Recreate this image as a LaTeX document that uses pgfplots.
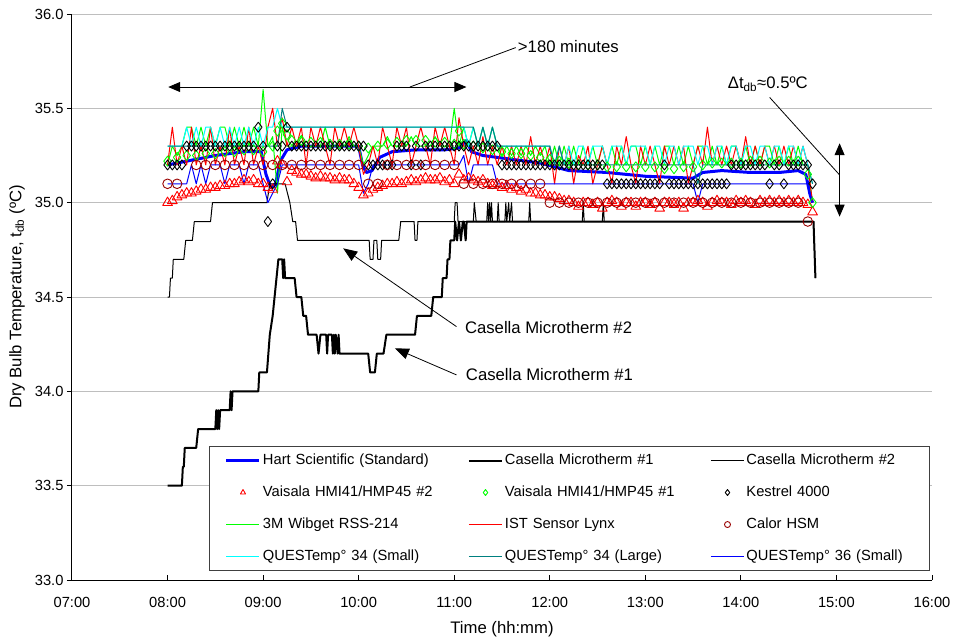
\documentclass[border=0pt]{standalone}
\usepackage{fontspec}
\setmainfont{Liberation Sans}
\usepackage{pgfplots}
\usepackage{pgfplotstable}
\pgfplotsset{compat=1.18}
\usetikzlibrary{arrows.meta}
\definecolor{calor}{RGB}{153,0,0}
\definecolor{tealq}{RGB}{0,128,128}
\definecolor{gridgray}{RGB}{190,190,190}
\definecolor{greenq}{RGB}{0,255,0}
\definecolor{cyanq}{RGB}{0,255,255}
\definecolor{redq}{RGB}{255,0,0}
\definecolor{blueq}{RGB}{0,0,255}
\pgfplotsset{markonly legend/.style={legend image code/.code={\path[draw=none,fill=none] (0pt,0pt) -- (45pt,0pt); \draw[##1] plot coordinates {(28.5pt,0pt)};}}}

\pgfplotstableread{
t vai2 kes m3 ist qs ql q36
8.00 35.00 35.2 35.2 35.2 35.3 35.3 35.1
8.05 35.01 35.2 35.3 35.4 35.3 35.3 35.1
8.10 35.03 35.2 35.25 35.2 35.3 35.3 35.1
8.15 35.04 35.2 35.3 35.3 35.3 35.3 35.1
8.20 35.05 35.3 35.4 35.2 35.4 35.3 35.1
8.25 35.05 35.3 35.4 35.4 35.3 35.3 35.2
8.30 35.06 35.3 35.3 35.2 35.4 35.3 35.1
8.35 35.07 35.3 35.4 35.3 35.3 35.3 35.2
8.40 35.07 35.3 35.3 35.2 35.4 35.3 35.1
8.45 35.08 35.3 35.4 35.4 35.4 35.3 35.2
8.50 35.08 35.3 35.3 35.2 35.3 35.3 35.2
8.55 35.09 35.3 35.4 35.3 35.4 35.3 35.2
8.60 35.09 35.3 35.4 35.2 35.3 35.3 35.1
8.65 35.10 35.3 35.3 35.4 35.4 35.3 35.2
8.70 35.10 35.3 35.4 35.2 35.3 35.3 35.2
8.75 35.11 35.3 35.3 35.3 35.4 35.3 35.2
8.80 35.12 35.3 35.4 35.2 35.3 35.3 35.1
8.85 35.11 35.3 35.3 35.4 35.4 35.3 35.2
8.90 35.12 35.3 35.4 35.2 35.3 35.3 35.2
8.95 35.10 35.4 35.3 35.3 35.4 35.3 35.2
9.00 35.10 35.3 35.6 35.2 35.3 35.3 35.1
9.05 35.08 34.9 35.3 35.4 35.4 35.3 35.0
9.10 35.07 35.1 35.35 35.5 35.4 35.3 35.05
9.15 35.22 35.3 35.05 35.3 35.5 35.3 35.1
9.20 35.20 35.3 35.4 35.45 35.4 35.5 35.2
9.25 35.11 35.4 35.3 35.3 35.4 35.4 35.2
9.30 35.17 35.3 35.3 35.4 35.4 35.4 35.2
9.35 35.16 35.3 35.3 35.3 35.4 35.4 35.2
9.40 35.15 35.3 35.35 35.4 35.4 35.4 35.2
9.45 35.15 35.3 35.3 35.2 35.4 35.4 35.2
9.50 35.14 35.3 35.3 35.4 35.4 35.4 35.2
9.55 35.13 35.3 35.3 35.3 35.4 35.4 35.2
9.60 35.14 35.3 35.3 35.4 35.4 35.4 35.2
9.65 35.13 35.3 35.4 35.3 35.4 35.4 35.2
9.70 35.13 35.3 35.3 35.2 35.4 35.4 35.2
9.75 35.12 35.3 35.3 35.4 35.4 35.4 35.2
9.80 35.13 35.3 35.3 35.3 35.4 35.4 35.2
9.85 35.12 35.3 35.3 35.4 35.4 35.4 35.2
9.90 35.12 35.3 35.35 35.3 35.4 35.4 35.2
9.95 35.10 35.3 35.3 35.4 35.4 35.4 35.2
10.00 35.08 35.3 35.3 35.3 35.4 35.4 35.2
10.05 35.04 35.3 35.2 35.15 35.4 35.4 35.05
10.10 35.05 35.2 35.25 35.2 35.4 35.4 35.1
10.15 35.07 35.2 35.3 35.3 35.4 35.4 35.2
10.20 35.08 35.2 35.3 35.2 35.4 35.4 35.2
10.25 35.09 35.2 35.3 35.4 35.4 35.4 35.2
10.30 35.10 35.2 35.35 35.3 35.4 35.4 35.2
10.35 35.10 35.2 35.3 35.2 35.4 35.4 35.2
10.40 35.11 35.3 35.3 35.4 35.4 35.4 35.2
10.45 35.10 35.3 35.3 35.3 35.4 35.4 35.2
10.50 35.11 35.3 35.3 35.4 35.4 35.4 35.2
10.55 35.12 35.2 35.35 35.2 35.4 35.4 35.2
10.60 35.11 35.3 35.3 35.3 35.4 35.4 35.2
10.65 35.12 35.2 35.3 35.4 35.4 35.4 35.2
10.70 35.13 35.3 35.3 35.3 35.4 35.4 35.2
10.75 35.12 35.3 35.3 35.2 35.4 35.4 35.2
10.80 35.12 35.3 35.35 35.4 35.4 35.4 35.2
10.85 35.13 35.3 35.3 35.3 35.4 35.4 35.2
10.90 35.11 35.3 35.3 35.4 35.4 35.4 35.2
10.95 35.12 35.3 35.3 35.3 35.4 35.4 35.2
11.00 35.10 35.3 35.5 35.2 35.4 35.4 35.2
11.05 35.15 35.3 35.3 35.45 35.4 35.4 35.2
11.10 35.12 35.3 35.4 35.3 35.4 35.4 35.25
11.15 35.13 35.3 35.3 35.2 35.3 35.4 35.1
11.20 35.12 35.3 35.4 35.3 35.4 35.4 35.2
11.25 35.11 35.3 35.3 35.2 35.3 35.3 35.2
11.30 35.12 35.3 35.4 35.35 35.4 35.4 35.2
11.35 35.10 35.3 35.3 35.2 35.3 35.3 35.2
11.40 35.09 35.3 35.4 35.3 35.4 35.4 35.2
11.45 35.10 35.3 35.3 35.2 35.3 35.3 35.1
11.50 35.08 35.2 35.25 35.3 35.3 35.3 35.1
11.55 35.09 35.2 35.3 35.2 35.3 35.3 35.1
11.60 35.07 35.2 35.25 35.3 35.3 35.3 35.1
11.65 35.08 35.2 35.3 35.2 35.3 35.3 35.1
11.70 35.06 35.2 35.25 35.3 35.3 35.3 35.1
11.75 35.07 35.2 35.3 35.2 35.3 35.3 35.1
11.80 35.05 35.2 35.25 35.35 35.3 35.3 35.1
11.85 35.05 35.2 35.3 35.2 35.3 35.3 35.1
11.90 35.04 35.2 35.25 35.3 35.3 35.3 35.1
11.95 35.04 35.2 35.3 35.2 35.3 35.3 35.1
12.00 35.03 35.2 35.2 35.3 35.3 35.3 35.1
12.05 35.03 35.2 35.3 35.1 35.2 35.2 35.1
12.10 35.02 35.2 35.2 35.3 35.3 35.3 35.1
12.15 35.01 35.2 35.3 35.2 35.2 35.2 35.1
12.20 35.01 35.2 35.2 35.3 35.3 35.2 35.1
12.25 35.00 35.2 35.3 35.1 35.2 35.2 35.1
12.30 34.98 35.2 35.2 35.25 35.3 35.2 35.1
12.35 35.00 35.2 35.3 35.2 35.3 35.2 35.1
12.40 35.00 35.2 35.2 35.3 35.2 35.2 35.1
12.45 34.99 35.2 35.3 35.1 35.3 35.2 35.1
12.50 35.00 35.2 35.2 35.2 35.3 35.2 35.1
12.55 34.97 35.2 35.3 35.3 35.3 35.2 35.1
12.60 35.00 35.1 35.2 35.2 35.2 35.2 35.1
12.65 35.01 35.1 35.3 35.1 35.3 35.2 35.1
12.70 35.00 35.1 35.2 35.3 35.3 35.2 35.1
12.75 34.98 35.1 35.3 35.2 35.3 35.2 35.1
12.80 35.00 35.1 35.2 35.35 35.2 35.2 35.1
12.85 35.00 35.1 35.3 35.2 35.3 35.2 35.1
12.90 34.98 35.1 35.3 35.1 35.3 35.2 35.1
12.95 35.00 35.1 35.2 35.3 35.3 35.2 35.1
13.00 35.00 35.1 35.3 35.2 35.3 35.2 35.1
13.05 34.99 35.1 35.2 35.3 35.2 35.2 35.1
13.10 35.00 35.1 35.3 35.2 35.3 35.2 35.1
13.15 34.97 35.1 35.2 35.1 35.3 35.2 35.1
13.20 35.00 35.2 35.3 35.3 35.2 35.2 35.1
13.25 35.00 35.1 35.3 35.2 35.3 35.2 35.1
13.30 34.99 35.1 35.2 35.3 35.3 35.2 35.1
13.35 35.00 35.1 35.3 35.2 35.2 35.2 35.1
13.40 34.97 35.1 35.2 35.3 35.3 35.2 35.1
13.45 35.00 35.1 35.3 35.1 35.3 35.2 35.1
13.50 35.00 35.1 35.2 35.2 35.3 35.2 35.1
13.55 35.01 35.1 35.3 35.3 35.2 35.1 35.0
13.60 35.00 35.1 35.3 35.2 35.3 35.2 35.1
13.65 34.98 35.1 35.2 35.4 35.3 35.2 35.1
13.70 35.00 35.1 35.3 35.2 35.2 35.2 35.1
13.75 35.01 35.1 35.2 35.3 35.3 35.2 35.1
13.80 35.00 35.1 35.3 35.2 35.3 35.2 35.1
13.85 35.00 35.1 35.2 35.3 35.2 35.2 35.1
13.90 34.99 35.2 35.3 35.2 35.3 35.2 35.1
13.95 35.01 35.2 35.3 35.3 35.3 35.2 35.1
14.00 35.00 35.2 35.2 35.2 35.2 35.2 35.1
14.05 35.01 35.2 35.3 35.35 35.3 35.2 35.1
14.10 35.00 35.2 35.2 35.2 35.3 35.2 35.1
14.15 34.99 35.2 35.3 35.3 35.2 35.2 35.1
14.20 35.01 35.2 35.2 35.2 35.3 35.2 35.1
14.25 35.00 35.2 35.3 35.3 35.3 35.2 35.1
14.30 35.01 35.1 35.3 35.2 35.2 35.2 35.1
14.35 35.00 35.2 35.2 35.3 35.3 35.2 35.1
14.40 35.01 35.2 35.3 35.2 35.3 35.2 35.1
14.45 35.00 35.1 35.2 35.3 35.2 35.2 35.1
14.50 35.01 35.2 35.3 35.2 35.3 35.2 35.1
14.55 35.00 35.2 35.2 35.3 35.3 35.2 35.1
14.60 35.01 35.2 35.3 35.2 35.2 35.2 35.1
14.65 35.00 35.2 35.2 35.3 35.3 35.2 35.1
14.70 34.99 35.2 35.2 35.2 35.2 35.2 35.1
14.75 34.95 35.1 35.0 35.0 35.1 35.1 35.0
}\noisy

\begin{document}
\begin{tikzpicture}
\useasboundingbox (-72pt,-58pt) rectangle (884pt,580pt);
\begin{axis}[
  at={(0pt,0pt)}, anchor=south west,
  width=860pt, height=566pt, scale only axis,
  xmin=7, xmax=16, ymin=33, ymax=36,
  axis x line*=bottom, axis y line*=left,
  axis line style={-, line width=1pt, black},
  xtick={7,8,...,16},
  xticklabels={07:00,08:00,09:00,10:00,11:00,12:00,13:00,14:00,15:00,16:00},
  ytick={33,33.5,...,36},
  xtick align=inside, ytick align=outside,
  major tick length=5pt,
  tick style={black, line width=1pt},
  ymajorgrids, grid style={gridgray, line width=1pt},
  /pgf/number format/assume math mode=true,
  yticklabel style={/pgf/number format/.cd, fixed, fixed zerofill, precision=1},
  ticklabel style={font=\fontsize{14.7}{17}\selectfont},
  xticklabel style={yshift=-14pt},
  label style={font=\fontsize{16.7}{20}\selectfont},
  xlabel={Time (hh:mm)},
  ylabel={Dry Bulb Temperature, t\textsubscript{db} (ºC)},
  xlabel style={at={(axis description cs:0.5,-0.087)}, anchor=center},
  ylabel style={at={(axis description cs:-0.064,0.5)}, anchor=center},
  every axis plot/.append style={line join=round},
  legend columns=3, legend cell align=left,
  legend style={at={(0.1593,0.2367)}, anchor=north west, draw=black!75, line width=1pt, fill=white,
    inner xsep=5pt, inner ysep=7pt, row sep=18pt, font=\fontsize{14.7}{17}\selectfont,
    nodes={text width=176pt, align=left, inner xsep=2pt, inner ysep=0pt, text height=11pt, text depth=3pt},
    /tikz/every even column/.append style={column sep=16pt}},
  legend image code/.code={\path[draw=none,fill=none] (0pt,0pt) -- (45pt,0pt);
    \draw[mark repeat=2,mark phase=2,#1] plot coordinates {(12pt,0pt) (28.5pt,0pt) (45pt,0pt)};},
  legend image post style={mark size=3pt},
]
% 1 Hart Scientific
\addplot[blueq, line width=3pt, no marks] coordinates {
(8.0,35.2) (8.2,35.22) (8.5,35.25) (8.8,35.27) (8.98,35.27) (9.03,35.15) (9.08,35.08) (9.13,35.1)
(9.18,35.22) (9.25,35.28) (9.4,35.3) (9.7,35.3) (10.0,35.3) (10.04,35.2) (10.08,35.16) (10.14,35.17)
(10.22,35.24) (10.35,35.27) (10.6,35.28) (10.9,35.28) (11.05,35.29) (11.13,35.33) (11.18,35.27)
(11.3,35.25) (11.6,35.23) (11.9,35.21) (12.2,35.17) (12.6,35.16) (13.0,35.14) (13.5,35.13)
(13.6,35.16) (13.8,35.17) (14.1,35.16) (14.4,35.16) (14.6,35.17) (14.68,35.15) (14.72,35.05) (14.75,35.0)};
\addlegendentry{Hart Scientific (Standard)}
% 2 Casella #1
\addplot[black, line width=2pt, no marks] coordinates {
(8.00,33.5) (8.15,33.5) (8.16,33.6) (8.17,33.6) (8.18,33.7) (8.30,33.7) (8.32,33.8) (8.50,33.8)
(8.51,33.9) (8.52,33.8) (8.53,33.9) (8.54,33.8) (8.55,33.9) (8.65,33.9) (8.66,34.0) (8.67,33.9)
(8.68,34.0) (8.95,34.0) (8.96,34.1) (9.04,34.1) (9.07,34.3) (9.10,34.4) (9.12,34.5) (9.14,34.6)
(9.16,34.7) (9.20,34.7) (9.21,34.6) (9.22,34.7) (9.23,34.6) (9.33,34.6) (9.35,34.5) (9.40,34.5)
(9.42,34.4) (9.45,34.4) (9.47,34.3) (9.56,34.3) (9.58,34.2) (9.60,34.3) (9.66,34.3) (9.67,34.2)
(9.68,34.3) (9.72,34.3) (9.73,34.2) (9.74,34.3) (9.75,34.2) (9.76,34.3) (9.78,34.2) (9.79,34.3)
(9.80,34.2) (10.10,34.2) (10.12,34.1) (10.17,34.1) (10.19,34.2) (10.26,34.2) (10.29,34.3)
(10.59,34.3) (10.61,34.4) (10.76,34.4) (10.78,34.5) (10.87,34.5) (10.88,34.6) (10.92,34.6)
(10.93,34.7) (10.95,34.7) (10.96,34.8) (11.00,34.8) (11.01,34.9) (11.03,34.8) (11.05,34.9)
(11.07,34.8) (11.09,34.9) (11.10,34.9) (11.12,34.8) (11.13,34.9) (14.76,34.9) (14.78,34.6)};
\addlegendentry{Casella Microtherm \#1}
% 3 Casella #2
\addplot[black, line width=1pt, no marks] coordinates {
(8.00,34.5) (8.02,34.5) (8.03,34.6) (8.05,34.6) (8.06,34.7) (8.17,34.7) (8.19,34.8) (8.26,34.8)
(8.28,34.9) (8.45,34.9) (8.47,35.0) (9.04,35.0) (9.07,35.1) (9.23,35.1) (9.28,35.0) (9.31,34.9)
(9.34,34.9) (9.36,34.8) (10.11,34.8) (10.12,34.7) (10.15,34.7) (10.16,34.8) (10.19,34.8)
(10.20,34.7) (10.23,34.7) (10.24,34.8) (10.42,34.8) (10.44,34.9) (10.58,34.9) (10.59,34.8)
(10.61,34.8) (10.62,34.9) (11.00,34.9) (11.01,35.0) (11.03,35.0) (11.04,34.9) (11.20,34.9)
(11.21,35.0) (11.23,34.9) (11.34,34.9) (11.35,35.0) (11.36,34.9) (11.37,35.0) (11.38,34.9)
(11.39,35.0) (11.40,34.9) (11.45,34.9) (11.46,35.0) (11.47,34.9) (11.53,34.9) (11.54,35.0)
(11.55,34.9) (11.57,35.0) (11.58,34.9) (11.60,35.0) (11.61,34.9) (11.78,34.9) (11.79,35.0)
(11.80,34.9) (12.34,34.9) (12.35,35.0) (12.36,34.9) (12.55,34.9) (12.56,35.0) (12.57,34.9)
(14.76,34.9) (14.78,34.6)};
\addlegendentry{Casella Microtherm \#2}
% 4 Vaisala #2
\addplot[redq, only marks, mark=triangle, mark size=5.6pt, line width=0.9pt, markonly legend] table[x=t,y=vai2]{\noisy};
\addlegendentry{Vaisala HMI41/HMP45 \#2}
% 5 Vaisala #1
\addplot[greenq, only marks, mark=diamond, mark size=5pt, line width=0.9pt, markonly legend] coordinates {
(8.0,35.22) (8.1,35.24) (8.2,35.25) (8.3,35.25) (8.4,35.26) (8.5,35.26) (8.6,35.27) (8.7,35.27)
(8.8,35.28) (8.9,35.28) (9.0,35.27) (9.1,35.30) (9.15,35.38) (9.2,35.42) (9.25,35.36) (9.3,35.33)
(9.4,35.33) (9.5,35.32) (9.6,35.32) (9.7,35.31) (9.8,35.31) (9.9,35.31) (10.0,35.30) (10.1,35.29)
(10.2,35.30) (10.3,35.31) (10.4,35.32) (10.5,35.33) (10.6,35.33) (10.7,35.33) (10.8,35.32)
(10.9,35.32) (11.0,35.31) (11.05,35.38) (11.1,35.31) (11.2,35.30) (11.3,35.29) (11.4,35.28)
(11.5,35.27) (11.6,35.26) (11.7,35.26) (11.8,35.25) (11.9,35.24) (12.0,35.23) (12.1,35.22)
(12.2,35.21) (12.3,35.20) (12.4,35.20) (12.5,35.20) (12.6,35.19) (12.7,35.19) (12.8,35.19)
(12.9,35.19) (13.0,35.19) (13.1,35.19) (13.2,35.18) (13.3,35.18) (13.4,35.19) (13.5,35.19)
(13.6,35.20) (13.7,35.21) (13.8,35.21) (13.9,35.21) (14.0,35.21) (14.1,35.22) (14.2,35.22)
(14.3,35.21) (14.4,35.22) (14.5,35.22) (14.6,35.22) (14.7,35.15) (14.75,35.0)};
\addlegendentry{Vaisala HMI41/HMP45 \#1}
% 6 Kestrel
\addplot[black, only marks, mark=diamond, mark size=5pt, line width=0.9pt, markonly legend] table[x=t,y=kes]{\noisy};
\addlegendentry{Kestrel 4000}
% 7 3M Wibget
\addplot[greenq, line width=1pt, no marks] table[x=t,y=m3]{\noisy};
\addlegendentry{3M Wibget RSS-214}
% 8 IST
\addplot[redq, line width=1pt, no marks] table[x=t,y=ist]{\noisy};
\addlegendentry{IST Sensor Lynx}
% 9 Calor
\addplot[calor, only marks, mark=o, mark size=4.8pt, line width=0.9pt, markonly legend] coordinates {
(8.0,35.1) (8.1,35.1) (8.3,35.2) (8.4,35.2) (8.5,35.2) (8.6,35.2) (8.7,35.2) (8.8,35.2) (8.9,35.2)
(9.0,35.2) (9.1,35.2) (9.2,35.2) (9.3,35.2) (9.4,35.2) (9.5,35.2) (9.6,35.2) (9.7,35.2) (9.8,35.2)
(9.9,35.2) (10.0,35.2) (10.1,35.1) (10.2,35.1) (10.3,35.2) (10.4,35.2) (10.5,35.2) (10.6,35.2)
(10.7,35.2) (10.8,35.2) (10.9,35.2) (11.0,35.2) (11.1,35.1) (11.2,35.1) (11.3,35.1) (11.4,35.1)
(11.5,35.1) (11.6,35.1) (11.7,35.1) (11.8,35.1) (11.9,35.1) (12.0,35.0) (12.1,35.0) (12.2,35.0)
(12.3,35.0) (12.4,35.0) (12.5,35.0) (12.6,35.0) (12.7,35.0) (12.8,35.0) (12.9,35.0) (13.0,35.0)
(13.1,35.0) (13.2,35.0) (13.3,35.0) (13.4,35.0) (13.5,35.0) (13.6,35.0) (13.7,35.0) (13.8,35.0)
(13.9,35.0) (14.0,35.0) (14.1,35.0) (14.2,35.0) (14.3,35.0) (14.4,35.0) (14.5,35.0) (14.6,35.0)
(14.7,34.9)};
\addlegendentry{Calor HSM}
% 10 QUESTemp 34 small
\addplot[cyanq, line width=1pt, no marks] table[x=t,y=qs]{\noisy};
\addlegendentry{QUESTemp° 34 (Small)}
% 11 QUESTemp 34 large
\addplot[tealq, line width=1pt, no marks] table[x=t,y=ql]{\noisy};
\addlegendentry{QUESTemp° 34 (Large)}
% 12 QUESTemp 36 small
\addplot[blueq, line width=1pt, no marks] table[x=t,y=q36]{\noisy};
\addlegendentry{QUESTemp° 36 (Small)}

% annotations
\draw[{Triangle[length=12pt,width=10pt]}-{Triangle[length=12pt,width=10pt]}, line width=1pt]
  (axis cs:8.007,35.613) -- (axis cs:11.128,35.613);
\draw[line width=0.8pt] (axis cs:10.536,35.613) -- (axis cs:11.644,35.822);
\node[anchor=west, inner sep=0pt, font=\fontsize{16.7}{20}\selectfont] at (axis cs:11.665,35.83) {>180 minutes};
\node[anchor=west, inner sep=0pt, font=\fontsize{16.7}{20}\selectfont] at (axis cs:13.862,35.629) {Δt\textsubscript{db}≈0.5ºC};
\draw[line width=0.8pt] (axis cs:14.301,35.558) -- (axis cs:15.033,35.147);
\draw[{Triangle[length=12pt,width=10pt]}-{Triangle[length=12pt,width=10pt]}, line width=1pt]
  (axis cs:15.033,35.315) -- (axis cs:15.033,34.926);
\draw[-{Triangle[length=14pt,width=11pt]}, line width=0.8pt] (axis cs:11.024,34.343) -- (axis cs:9.838,34.758);
\draw[-{Triangle[length=14pt,width=11pt]}, line width=0.8pt] (axis cs:11.024,34.087) -- (axis cs:10.379,34.228);
\node[anchor=west, inner sep=0pt, font=\fontsize{16.7}{20}\selectfont] at (axis cs:11.111,34.336) {Casella Microtherm \#2};
\node[anchor=west, inner sep=0pt, font=\fontsize{16.7}{20}\selectfont] at (axis cs:11.121,34.087) {Casella Microtherm \#1};
\end{axis}
\end{tikzpicture}
\end{document}
